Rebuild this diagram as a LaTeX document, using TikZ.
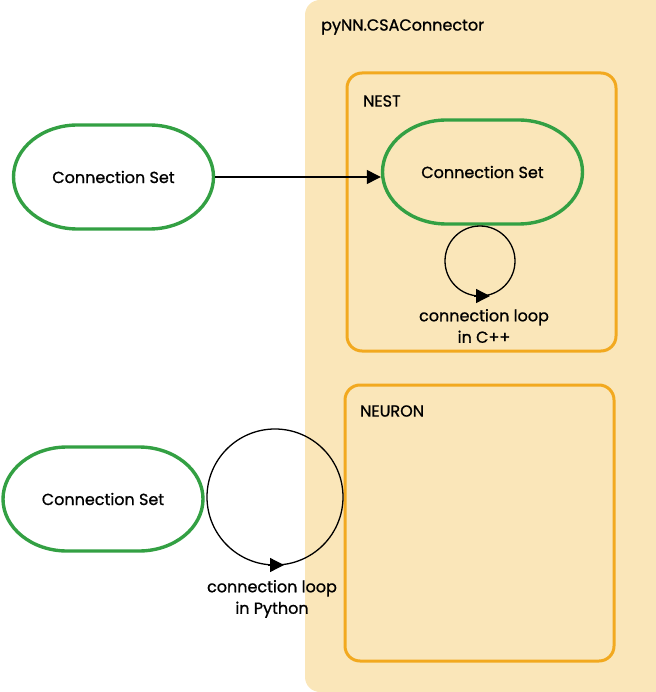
\documentclass[tikz,border=0pt]{standalone}
\usepackage{fontspec}
\setmainfont{Poppins}
\newfontfamily\medfont{Poppins}[FakeBold=1.0]
\usetikzlibrary{arrows.meta}
\definecolor{bgorange}{HTML}{FAE6B9}
\definecolor{boxorange}{HTML}{F2A91F}
\definecolor{setgreen}{HTML}{33A043}
\tikzset{
  csset/.style={minimum width=203pt, minimum height=108pt, font=\medfont\fontsize{16}{19}\selectfont, inner sep=0pt},
  csline/.style={draw=setgreen, line width=3.4pt},
  simbox/.style={draw=boxorange, line width=3pt, rounded corners=15pt},
  lbl/.style={font=\medfont\fontsize{16}{19}\selectfont, anchor=west, inner sep=0pt},
  looptext/.style={font=\medfont\fontsize{16}{21.5}\selectfont, align=center, inner sep=0pt},
  loopline/.style={line width=1.3pt},
  tip/.style={-{Triangle[length=14pt,width=14pt]}, line width=1.3pt},
}
\newcommand\csoutline[1]{%
  \draw[csline] ([shift={(-36,-52)}]#1.center) -- ([shift={(36,-52)}]#1.center)
    arc[start angle=-90, end angle=90, x radius=64, y radius=52]
    -- ([shift={(-36,52)}]#1.center)
    arc[start angle=90, end angle=270, x radius=64, y radius=52] -- cycle;}
\begin{document}
\begin{tikzpicture}[x=1pt,y=-1pt]
\useasboundingbox (0,0) rectangle (655,692);
% background
\fill[bgorange, rounded corners=15pt] (305,0) rectangle (670,692);
\fill[bgorange] (655,0) rectangle (670,692);
\node[lbl] (pynn) at (321,27) {pyNN.CSAConnector};
% NEST box
\draw[simbox] (347,73) rectangle (616,351);
\node[lbl] (nest) at (363,101) {NEST};
% NEURON box
\draw[simbox] (345,385) rectangle (614,661);
\node[lbl] (neuron) at (360,411) {NEURON};
% connection sets
\node[csset] (cs1) at (113.5,177) {Connection Set};
\node[csset] (cs2) at (482.5,172) {Connection Set};
\node[csset] (cs3) at (103,499) {Connection Set};
\csoutline{cs1}
\csoutline{cs2}
\csoutline{cs3}
% arrow
\draw[tip] (cs1.east) -- (cs2.west |- cs1.east);
% small loop
\coordinate (l1) at (480,261);
\draw[loopline] (l1) circle[radius=35pt];
\coordinate (l1a) at (474,296);
\coordinate (l1b) at (490,296);
\draw[tip] (l1a) -- (l1b);
\node[looptext] (l1t) at (484,326) {connection loop\\in C++};
% big loop
\coordinate (l2) at (275,497);
\draw[loopline] (l2) circle[radius=68pt];
\coordinate (l2a) at (268,565);
\coordinate (l2b) at (284,565);
\draw[tip] (l2a) -- (l2b);
\node[looptext] (l2t) at (272,599) {connection loop\\in Python};
\end{tikzpicture}
\end{document}
